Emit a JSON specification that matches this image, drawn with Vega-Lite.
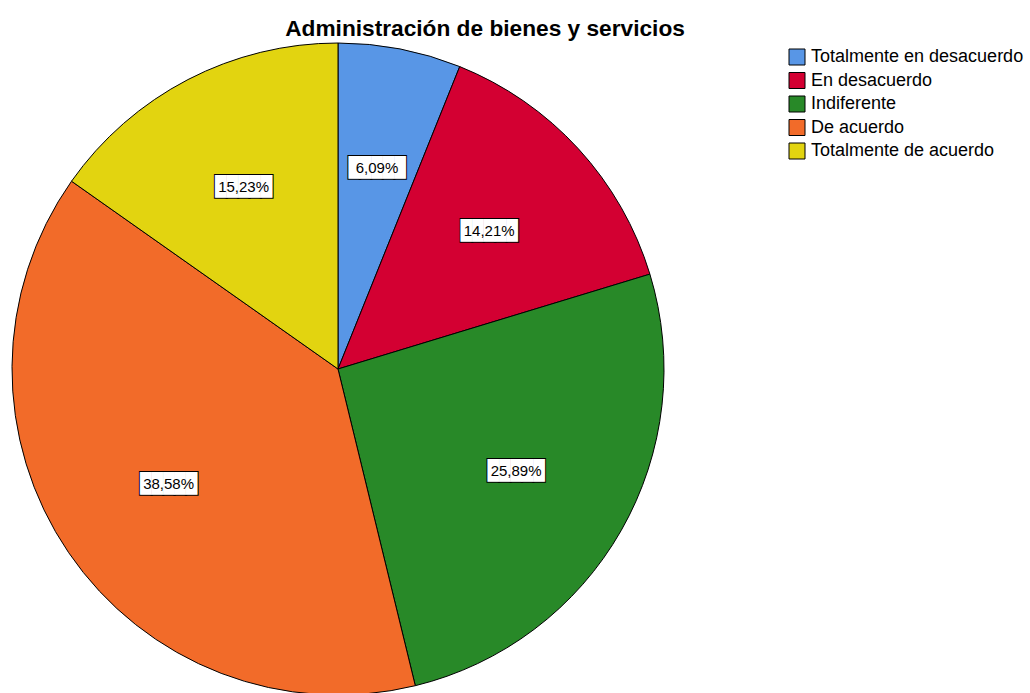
{
  "$schema": "https://vega.github.io/schema/vega-lite/v6.json",
  "autosize": {"type": "none"},
  "padding": {"left": 0, "top": 45, "right": 354, "bottom": 0},
  "width": 676,
  "height": 648,
  "background": "white",
  "title": {
    "text": "Administración de bienes y servicios",
    "font": "Liberation Sans",
    "fontSize": 22.7,
    "fontWeight": "bold",
    "color": "black",
    "anchor": "middle",
    "frame": "group",
    "baseline": "alphabetic",
    "offset": -18,
    "dx": 147
  },
  "data": {
    "values": [
      {"categoria": "Totalmente en desacuerdo", "porcentaje": 6.09, "etiqueta": "6,09%", "orden": 1},
      {"categoria": "En desacuerdo", "porcentaje": 14.21, "etiqueta": "14,21%", "orden": 2},
      {"categoria": "Indiferente", "porcentaje": 25.89, "etiqueta": "25,89%", "orden": 3},
      {"categoria": "De acuerdo", "porcentaje": 38.58, "etiqueta": "38,58%", "orden": 4},
      {"categoria": "Totalmente de acuerdo", "porcentaje": 15.23, "etiqueta": "15,23%", "orden": 5}
    ]
  },
  "encoding": {
    "theta": {"field": "porcentaje", "type": "quantitative", "stack": true},
    "order": {"field": "orden", "type": "ordinal"}
  },
  "layer": [
    {
      "mark": {"type": "arc", "outerRadius": 326, "stroke": "black", "strokeWidth": 1},
      "encoding": {
        "color": {
          "field": "categoria",
          "type": "nominal",
          "scale": {
            "domain": ["Totalmente en desacuerdo", "En desacuerdo", "Indiferente", "De acuerdo", "Totalmente de acuerdo"],
            "range": ["#5896E6", "#D30032", "#288928", "#F26B29", "#E2D410"]
          },
          "legend": {
            "orient": "none",
            "legendX": 788,
            "legendY": 3,
            "title": null,
            "padding": 0,
            "symbolType": "square",
            "symbolSize": 256,
            "symbolStrokeColor": "black",
            "symbolStrokeWidth": 1,
            "symbolOpacity": 1,
            "labelFont": "Liberation Sans",
            "labelFontSize": 18,
            "labelColor": "black",
            "labelOffset": 5,
            "labelLimit": 400,
            "rowPadding": 3.5
          }
        }
      }
    },
    {
      "mark": {"type": "text", "font": "DejaVu Sans Mono", "fontSize": 19, "align": "center", "baseline": "middle", "fill": "black", "stroke": "black", "strokeWidth": 2},
      "encoding": {"radius": {"value": 205}, "text": {"value": "█████"}}
    },
    {
      "mark": {"type": "text", "font": "DejaVu Sans Mono", "fontSize": 19, "align": "center", "baseline": "middle", "fill": "white"},
      "encoding": {"radius": {"value": 205}, "text": {"value": "█████"}}
    },
    {
      "mark": {"type": "text", "font": "Liberation Sans", "fontSize": 15, "align": "center", "baseline": "middle", "fill": "black"},
      "encoding": {"radius": {"value": 205}, "text": {"field": "etiqueta", "type": "nominal"}}
    }
  ]
}
